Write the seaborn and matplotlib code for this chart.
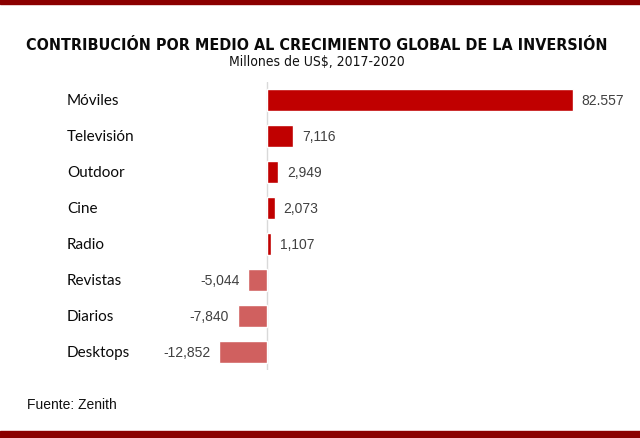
import pandas as pd
import seaborn as sns
import matplotlib.pyplot as plt
from matplotlib.transforms import blended_transform_factory
from matplotlib.patches import Rectangle

# Datos
medios = ['Móviles', 'Televisión', 'Outdoor', 'Cine', 'Radio', 'Revistas', 'Diarios', 'Desktops']
valores = [82557, 7116, 2949, 2073, 1107, -5044, -7840, -12852]
etiquetas = ['82.557', '7,116', '2,949', '2,073', '1,107', '-5,044', '-7,840', '-12,852']

titulo = 'CONTRIBUCIÓN POR MEDIO AL CRECIMIENTO GLOBAL DE LA INVERSIÓN'
subtitulo = 'Millones de US$, 2017-2020'
fuente = 'Fuente: Zenith'

df = pd.DataFrame({'medio': medios, 'valor': valores})
df['signo'] = ['pos' if v >= 0 else 'neg' for v in df['valor']]

sns.set_theme(style='white')

W, H = 640, 439
fig = plt.figure(figsize=(W / 100, H / 100), dpi=100)

# ejes en pixeles: cero en x=267, 82557 en x=572.7
px0, px_max = 267, 572.7
escala = (px_max - px0) / valores[0]
ax_l, ax_r, ax_t, ax_b = 160, 610, 83, 371
ax = fig.add_axes([ax_l / W, 1 - ax_b / H, (ax_r - ax_l) / W, (ax_b - ax_t) / H])

sns.barplot(data=df, x='valor', y='medio', hue='signo', orient='h',
            palette={'pos': '#c00000', 'neg': '#d0605f'}, width=0.62,
            dodge=False, legend=False, ax=ax, saturation=1)

ax.set_xlim(-(px0 - ax_l) / escala, (ax_r - px0) / escala)
ax.set_ylim(len(medios) - 0.5, -0.5)
ax.axvline(0, color='#d9d9d9', lw=1, zorder=0)
ax.set_axis_off()

# etiquetas de categoria alineadas a la izquierda
trans = blended_transform_factory(fig.transFigure, ax.transData)
for i, m in enumerate(medios):
    fig.text(67 / W, i, m, transform=trans, ha='left', va='center',
             fontsize=11, family='Lato', color='#0a0a0a')

# valores
for i, (v, t) in enumerate(zip(valores, etiquetas)):
    ax.annotate(t, (v, i), xytext=(6.5 if v >= 0 else -6.5, 0), textcoords='offset points',
                ha='left' if v >= 0 else 'right', va='center',
                fontsize=10, family='Liberation Sans', color='#404040')

fig.text(317 / W, 1 - 45 / H, titulo, ha='center', va='center', fontsize=11.5,
         fontweight='bold', family='DejaVu Sans', stretch='condensed', color='#0a0a0a')
fig.text(317 / W, 1 - 62 / H, subtitulo, ha='center', va='center', fontsize=10,
         family='DejaVu Sans', stretch='condensed', color='#111111')
fig.text(27 / W, 1 - 405 / H, fuente, ha='left', va='center', fontsize=10,
         family='Liberation Sans', color='#111111')

# franjas superior e inferior
fig.patches.append(Rectangle((0, 1 - 5 / H), 1, 5 / H, transform=fig.transFigure,
                             color='#8b0000', zorder=5))
fig.patches.append(Rectangle((0, 0), 1, 7 / H, transform=fig.transFigure,
                             color='#8b0000', zorder=5))

fig.savefig('out.png', dpi=100)
